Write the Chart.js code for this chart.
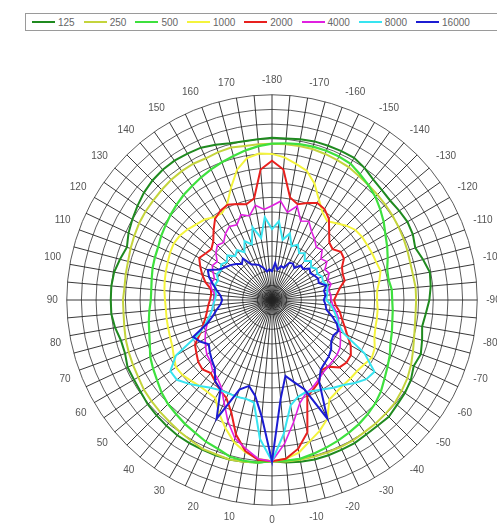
<!DOCTYPE html>
<html>
<head>
<meta charset="utf-8">
<script src="https://cdn.jsdelivr.net/npm/chart.js@4.4.0/dist/chart.umd.min.js"></script>
<style>
  html, body { margin: 0; padding: 0; background: #fff; }
  body { width: 497px; height: 526px; overflow: hidden; position: relative; font-family: "Liberation Sans", Arial, sans-serif; }
  #legend { position: absolute; left: 25px; top: 13px; width: 520px; height: 18px; border: 1px solid #9a9a9a; box-sizing: border-box; display: flex; align-items: center; padding-left: 6px; white-space: nowrap; }
  .item { display: flex; align-items: center; margin-right: 9px; font-size: 10px; color: #666; }
  .swatch { width: 23px; height: 2px; margin-right: 3px; }
  #wrap { position: absolute; left: 43px; top: 69px; width: 462px; height: 462px; }
</style>
</head>
<body>
<div id="legend"></div>
<div id="wrap"><canvas id="polar" width="462" height="462"></canvas></div>
<script>
// angle of each measurement, degrees (-180 at the top, 0 at the bottom)
const angles = [-180, -175, -170, -165, -160, -155, -150, -145, -140, -135, -130, -125,
  -120, -115, -110, -105, -100, -95, -90, -85, -80, -75, -70, -65,
  -60, -55, -50, -45, -40, -35, -30, -25, -20, -15, -10, -5,
  0, 5, 10, 15, 20, 25, 30, 35, 40, 45, 50, 55,
  60, 65, 70, 75, 80, 85, 90, 95, 100, 105, 110, 115,
  120, 125, 130, 135, 140, 145, 150, 155, 160, 165, 170, 175];

// frequency bands (Hz)
const frequencies = ['125', '250', '500', '1000', '2000', '4000', '8000', '16000'];

// relative level per angle, dB
const s125 = [0.2, 0.2, 0.4, 0.6, 0.6, 0.6, 0.6, 0.0, -0.8, -1.2, -1.4, -1.2,
  -1.0, -1.2, -1.8, -1.0, -0.2, -0.4, -0.8, -1.4, -1.8, -1.2, -0.6, -1.0,
  -0.2, 0.2, 0.4, 0.8, 0.6, 0.6, 0.8, 0.8, 0.8, 0.8, 0.6, 0.4,
  0.0, 0.4, 0.6, 0.8, 0.8, 0.8, 0.8, 0.8, 0.6, 0.4, 0.2, -0.2,
  -0.4, -0.4, -1.0, -1.0, -0.4, 0.0, 0.0, 0.0, -0.2, -0.8, -1.4, -0.6,
  0.0, 0.6, 1.2, 1.6, 1.8, 1.8, 1.6, 1.4, 0.8, 0.2, 0.0, 0.0];
const s250 = [-1.0, -1.0, -1.0, -1.0, -1.2, -1.4, -1.6, -2.0, -2.3, -2.5, -2.7, -2.9,
  -3.1, -3.3, -3.5, -3.7, -3.7, -3.5, -3.5, -3.5, -3.3, -2.9, -2.3, -1.6,
  -1.0, -0.6, -0.2, -0.1, 0.0, 0.0, 0.2, 0.2, 0.2, 0.2, 0.2, 0.2,
  0.0, 0.4, 0.6, 0.8, 0.6, 0.6, 0.2, -0.1, -0.4, -0.6, -0.8, -1.0,
  -1.4, -1.6, -1.8, -2.0, -2.3, -2.5, -2.5, -2.7, -2.6, -2.5, -2.2, -1.9,
  -1.6, -1.4, -1.3, -1.1, -0.9, -0.8, -0.8, -1.0, -0.8, -0.7, -1.0, -1.0];
const s500 = [-1.0, -0.8, -0.6, -0.5, -0.5, -0.6, -0.8, -1.6, -2.3, -3.1, -4.1, -5.1,
  -6.2, -7.0, -7.8, -8.6, -8.8, -8.4, -8.4, -8.2, -8.0, -7.6, -7.2, -6.4,
  -5.7, -4.9, -3.9, -3.1, -2.5, -2.0, -1.6, -1.2, -0.8, -0.4, 0.0, 0.0,
  0.0, 0.4, 0.4, 0.2, -0.6, -1.0, -1.6, -2.0, -2.5, -2.9, -3.5, -4.3,
  -4.9, -5.5, -6.4, -7.0, -7.4, -7.8, -8.2, -8.2, -8.0, -7.7, -7.5, -7.3,
  -6.8, -6.4, -5.9, -5.4, -4.9, -4.5, -4.0, -3.5, -3.0, -2.5, -1.9, -1.4];
const s1000 = [-3.1, -3.7, -4.7, -5.6, -7.6, -10.3, -12.3, -13.3, -12.5, -11.5, -10.7, -10.5,
  -10.5, -10.4, -10.3, -10.0, -10.7, -11.4, -11.5, -11.3, -11.2, -11.1, -10.7, -9.8,
  -9.4, -10.0, -10.3, -10.3, -10.3, -10.0, -9.5, -6.2, -4.5, -3.1, -1.3, -0.4,
  0.0, -0.4, -1.4, -2.9, -5.1, -7.4, -9.8, -10.0, -10.0, -9.6, -9.1, -9.0,
  -9.8, -10.5, -10.8, -11.0, -11.1, -11.2, -11.1, -10.9, -10.7, -10.5, -10.3, -10.0,
  -9.8, -10.0, -10.5, -11.1, -11.5, -12.3, -12.5, -11.3, -8.5, -5.4, -3.5, -2.9];
const s2000 = [-4.5, -6.2, -11.7, -12.7, -11.9, -11.1, -11.5, -12.7, -14.8, -16.4, -16.8, -15.8,
  -16.0, -17.2, -17.6, -17.6, -18.9, -19.7, -20.3, -19.9, -18.9, -18.2, -17.2, -16.0,
  -14.4, -13.3, -13.1, -13.5, -15.2, -15.4, -13.7, -12.9, -11.9, -5.0, -2.1, -0.4,
  0.0, -0.2, -1.6, -4.5, -8.6, -10.9, -11.7, -12.7, -13.5, -12.9, -13.3, -14.1,
  -14.8, -16.8, -18.0, -18.9, -19.5, -19.9, -20.3, -20.5, -20.3, -18.9, -17.8, -16.8,
  -15.8, -16.4, -16.8, -16.0, -14.4, -12.7, -11.9, -11.5, -12.1, -12.7, -11.9, -6.2];
const s4000 = [-13.7, -12.7, -14.8, -13.1, -15.8, -15.2, -16.8, -17.8, -18.9, -18.5, -19.9, -19.3,
  -20.5, -20.1, -20.9, -20.5, -21.3, -20.9, -20.9, -20.5, -19.7, -18.9, -18.5, -17.6,
  -16.8, -16.0, -15.6, -15.4, -15.2, -14.8, -14.1, -13.3, -12.7, -11.1, -7.6, -3.5,
  0.0, -0.4, -2.1, -3.7, -6.6, -9.8, -12.3, -13.5, -14.1, -15.2, -15.6, -16.4,
  -17.2, -18.0, -18.9, -19.7, -20.5, -20.9, -21.1, -21.3, -20.5, -19.9, -20.5, -19.7,
  -18.9, -19.3, -18.0, -17.2, -17.6, -16.4, -15.6, -16.0, -14.4, -15.2, -13.3, -14.4];
const s8000 = [-18.5, -16.8, -20.5, -18.9, -21.3, -20.5, -21.9, -21.3, -22.6, -21.7, -22.6, -21.9,
  -22.3, -21.7, -21.9, -21.3, -21.5, -21.7, -21.9, -20.9, -20.1, -19.3, -18.5, -16.8,
  -11.1, -7.4, -7.8, -9.0, -10.3, -11.1, -11.9, -12.5, -12.9, -12.5, -11.1, -5.5,
  0.0, -4.5, -11.7, -12.1, -11.9, -11.9, -11.7, -11.1, -10.0, -8.8, -7.6, -7.6,
  -10.3, -16.4, -18.5, -19.7, -20.5, -20.9, -21.3, -21.5, -21.3, -20.9, -21.3, -20.5,
  -20.9, -20.3, -20.9, -20.1, -21.3, -20.5, -21.7, -19.7, -20.9, -17.6, -20.1, -16.0];
const s16000 = [-27.1, -25.4, -26.7, -25.8, -26.0, -24.6, -24.4, -25.0, -23.8, -24.0, -23.0, -23.4,
  -23.0, -22.6, -22.8, -21.5, -22.2, -22.0, -22.4, -22.0, -21.7, -20.3, -18.9, -18.0,
  -18.5, -18.2, -17.2, -16.6, -16.2, -15.6, -13.7, -6.2, -13.5, -15.6, -17.2, -12.7,
  0.0, -9.0, -13.1, -14.8, -13.5, -6.2, -11.9, -12.7, -14.8, -15.6, -16.4, -17.2,
  -16.0, -15.2, -18.9, -20.5, -21.5, -22.4, -22.8, -22.4, -21.5, -20.5, -19.3, -18.5,
  -20.5, -21.3, -21.9, -22.6, -23.4, -22.6, -24.6, -25.0, -25.4, -26.2, -27.1, -26.7];

const seriesValues = [s125, s250, s500, s1000, s2000, s4000, s8000, s16000];

// line styles, one per band
const lineColors = ['#1f8a1f', '#c4d43c', '#3ee03e', '#f4f43c', '#e8201e', '#e020e0', '#38e4f0', '#1c1cd2'];
const lineWidths = [2, 2, 2.2, 2, 2, 1.6, 2, 2];

// legend
const legend = document.getElementById('legend');
frequencies.forEach((f, i) => {
  const item = document.createElement('div');
  item.className = 'item';
  item.innerHTML = `<span class="swatch" style="background:${lineColors[i]}"></span><span>${f}</span>`;
  legend.appendChild(item);
});

const ctx = document.getElementById('polar').getContext('2d');
new Chart(ctx, {
  type: 'radar',
  data: {
    labels: angles,
    datasets: frequencies.map((f, i) => ({
      label: f,
      data: seriesValues[i],
      borderColor: lineColors[i],
      borderWidth: lineWidths[i],
      pointRadius: 0,
      fill: false,
      tension: 0,
      order: frequencies.length - i
    }))
  },
  options: {
    responsive: false,
    animation: false,
    layout: { padding: 0 },
    plugins: {
      legend: { display: false },
      tooltip: { enabled: false }
    },
    scales: {
      r: {
        min: -33,
        max: 9,
        ticks: { display: false, stepSize: 3 },
        grid: { circular: true, color: '#4a4a4a', lineWidth: 0.9 },
        angleLines: { color: '#222', lineWidth: 0.9 },
        pointLabels: {
          padding: 9,
          color: '#555',
          font: { size: 10, family: '"Liberation Sans", Arial, sans-serif' },
          callback: (label) => (label % 10 === 0 ? String(label) : '')
        }
      }
    }
  }
});
</script>
</body>
</html>
